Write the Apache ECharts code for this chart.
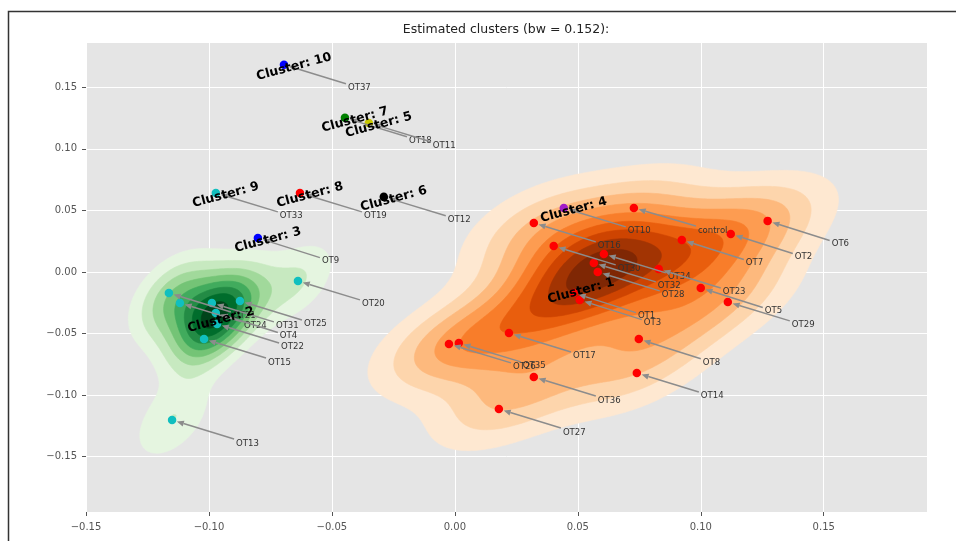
<!DOCTYPE html>
<html>
<head>
<meta charset="utf-8">
<script src="https://cdn.jsdelivr.net/npm/echarts@6/dist/echarts.min.js"></script>
<style>
html, body { margin: 0; padding: 0; background: #fff; }
#clusterChartContainer { width: 956px; height: 541px; }
</style>
</head>
<body>
<div id="clusterChartContainer"></div>
<script>
// sample labels, coordinates and the cluster each one was put in
var pointNames = ['control', 'OT6', 'OT2', 'OT7', 'OT16', 'OT30', 'OT34', 'OT32', 'OT28', 'OT23', 'OT5',
                  'OT29', 'OT1', 'OT3', 'OT17', 'OT8', 'OT26', 'OT35', 'OT36', 'OT14', 'OT27',
                  'OT21', 'OT24', 'OT31', 'OT4', 'OT25', 'OT22', 'OT15', 'OT13', 'OT20',
                  'OT37', 'OT18', 'OT11', 'OT33', 'OT19', 'OT12', 'OT9', 'OT10'];
var pointX = [0.0728, 0.1272, 0.1122, 0.0923, 0.0321, 0.0402, 0.0606, 0.0565, 0.0581, 0.0829, 0.1000,
              0.1110, 0.0484, 0.0508, 0.0220, 0.0748, -0.0024, 0.0016, 0.0321, 0.0740, 0.0179,
              -0.1163, -0.1118, -0.0988, -0.0972, -0.0874, -0.0967, -0.1020, -0.1150, -0.0638,
              -0.0695, -0.0447, -0.0350, -0.0972, -0.0630, -0.0289, -0.0801, 0.0443];
var pointY = [0.0520, 0.0415, 0.0309, 0.0260, 0.0398, 0.0211, 0.0146, 0.0073, 0.0000, 0.0024, -0.0130,
              -0.0244, -0.0171, -0.0228, -0.0496, -0.0545, -0.0585, -0.0577, -0.0854, -0.0821, -0.1114,
              -0.0171, -0.0252, -0.0252, -0.0333, -0.0236, -0.0423, -0.0545, -0.1203, -0.0073,
              0.1683, 0.1252, 0.1211, 0.0642, 0.0642, 0.0610, 0.0276, 0.0520];
var pointCluster = [1, 1, 1, 1, 1, 1, 1, 1, 1, 1, 1,
                    1, 1, 1, 1, 1, 1, 1, 1, 1, 1,
                    2, 2, 2, 2, 2, 2, 2, 2, 2,
                    10, 7, 5, 9, 8, 6, 3, 4];

// cluster centres (where the "Cluster: n" labels sit)
var clusterIds = [1, 2, 3, 4, 5, 6, 7, 8, 9, 10];
var clusterX = [0.0472, -0.0992, -0.0801, 0.0443, -0.0350, -0.0289, -0.0447, -0.0630, -0.0972, -0.0695];
var clusterY = [-0.0138, -0.0374, 0.0276, 0.0520, 0.1211, 0.0610, 0.1252, 0.0642, 0.0642, 0.1683];

var xTicks = [-0.15, -0.10, -0.05, 0.00, 0.05, 0.10, 0.15];
var yTicks = [-0.15, -0.10, -0.05, 0.00, 0.05, 0.10, 0.15];
var xMin = -0.15, xMax = 0.192;
var yMin = -0.195, yMax = 0.186;
var chartTitle = 'Estimated clusters (bw = 0.152):';

// styles
var clusterColors = {1: '#ff0000', 2: '#10bfbf', 3: '#0000ff', 4: '#a21cc8', 5: '#c8c800',
                     6: '#000000', 7: '#008000', 8: '#ff0000', 9: '#10bfbf', 10: '#0000ff'};
var orangesMap = ['#fff5eb', '#fee6ce', '#fdd0a2', '#fdae6b', '#fd8d3c', '#f16913', '#d94801', '#a63603', '#7f2704'];
var greensMap = ['#f7fcf5', '#e5f5e0', '#c7e9c0', '#a1d99b', '#74c476', '#41ab5d', '#238b45', '#006d2c', '#00441b'];
var noteFont = '9.5px "DejaVu Sans Condensed", "DejaVu Sans", sans-serif';
var noteDx = 64, noteDy = 23;
var arrowColor = '#8c8c8c';

var KDE_NX = 300, KDE_NY = 220;

// gaussian kde (scott's rule, full covariance) evaluated on a grid over the axes
function kdeDensity(xs, ys) {
  var n = xs.length, mx = 0, my = 0, i;
  for (i = 0; i < n; i++) { mx += xs[i]; my += ys[i]; }
  mx /= n; my /= n;
  var sxx = 0, syy = 0, sxy = 0;
  for (i = 0; i < n; i++) {
    var ex = xs[i] - mx, ey = ys[i] - my;
    sxx += ex * ex; syy += ey * ey; sxy += ex * ey;
  }
  var f2 = Math.pow(n, -1 / 3);
  var a = sxx / (n - 1) * f2, d = syy / (n - 1) * f2, b = sxy / (n - 1) * f2;
  var det = a * d - b * b;
  var norm = 1 / (2 * Math.PI * Math.sqrt(det) * n);
  var z = new Float64Array(KDE_NX * KDE_NY), peak = 0;
  for (var j = 0; j < KDE_NY; j++) {
    var gy = yMin + j * (yMax - yMin) / (KDE_NY - 1);
    for (var k = 0; k < KDE_NX; k++) {
      var gx = xMin + k * (xMax - xMin) / (KDE_NX - 1);
      var s = 0;
      for (i = 0; i < n; i++) {
        var u = gx - xs[i], v = gy - ys[i];
        s += Math.exp(-0.5 * (d * u * u - 2 * b * u * v + a * v * v) / det);
      }
      s *= norm;
      z[j * KDE_NX + k] = s;
      if (s > peak) peak = s;
    }
  }
  return {z: z, peak: peak};
}

// evenly spaced contour levels from 0 to just above the peak
function contourLevels(peak, layers, slack) {
  var step = peak / (layers - slack);
  var lv = [];
  for (var i = 0; i <= layers; i++) lv.push(i * step);
  return lv;
}

function hexToRgb(h) {
  return [parseInt(h.substr(1, 2), 16), parseInt(h.substr(3, 2), 16), parseInt(h.substr(5, 2), 16)];
}
function cmap(anchors, t) {
  var pos = Math.max(0, Math.min(1, t)) * (anchors.length - 1);
  var i0 = Math.min(Math.floor(pos), anchors.length - 2), f = pos - i0;
  var c0 = hexToRgb(anchors[i0]), c1 = hexToRgb(anchors[i0 + 1]);
  return 'rgb(' + [0, 1, 2].map(function (q) { return Math.round(c0[q] + (c1[q] - c0[q]) * f); }).join(',') + ')';
}

// marching squares -> closed loops in data coordinates
function isoLoops(z, level) {
  var adj = {}, pos = {};
  function gxv(i) { return xMin + i * (xMax - xMin) / (KDE_NX - 1); }
  function gyv(j) { return yMin + j * (yMax - yMin) / (KDE_NY - 1); }
  function val(i, j) { return z[j * KDE_NX + i]; }
  function edgeKey(type, i, j) {
    var key = type + i + '_' + j;
    if (!pos[key]) {
      var va, vb, pa, pb;
      if (type === 'h') { va = val(i, j); vb = val(i + 1, j); pa = [gxv(i), gyv(j)]; pb = [gxv(i + 1), gyv(j)]; }
      else { va = val(i, j); vb = val(i, j + 1); pa = [gxv(i), gyv(j)]; pb = [gxv(i), gyv(j + 1)]; }
      var t = (level - va) / (vb - va);
      pos[key] = [pa[0] + t * (pb[0] - pa[0]), pa[1] + t * (pb[1] - pa[1])];
    }
    return key;
  }
  function link(k1, k2) {
    (adj[k1] = adj[k1] || []).push(k2);
    (adj[k2] = adj[k2] || []).push(k1);
  }
  for (var j = 0; j < KDE_NY - 1; j++) {
    for (var i = 0; i < KDE_NX - 1; i++) {
      var v0 = val(i, j), v1 = val(i + 1, j), v2 = val(i + 1, j + 1), v3 = val(i, j + 1);
      var c = (v0 >= level ? 1 : 0) | (v1 >= level ? 2 : 0) | (v2 >= level ? 4 : 0) | (v3 >= level ? 8 : 0);
      if (c === 0 || c === 15) continue;
      var eB = edgeKey('h', i, j), eR = edgeKey('v', i + 1, j);
      var eT = edgeKey('h', i, j + 1), eL = edgeKey('v', i, j);
      var centre = (v0 + v1 + v2 + v3) / 4 >= level;
      if (c === 5) {
        if (centre) { link(eB, eR); link(eT, eL); } else { link(eB, eL); link(eR, eT); }
        continue;
      }
      if (c === 10) {
        if (centre) { link(eB, eL); link(eR, eT); } else { link(eB, eR); link(eT, eL); }
        continue;
      }
      var crossed = [];
      if (((c & 1) > 0) !== ((c & 2) > 0)) crossed.push(eB);
      if (((c & 2) > 0) !== ((c & 4) > 0)) crossed.push(eR);
      if (((c & 4) > 0) !== ((c & 8) > 0)) crossed.push(eT);
      if (((c & 8) > 0) !== ((c & 1) > 0)) crossed.push(eL);
      link(crossed[0], crossed[1]);
    }
  }
  var seen = {}, loops = [];
  Object.keys(adj).forEach(function (start) {
    if (seen[start]) return;
    var loop = [], prev = null, cur = start;
    while (cur && !seen[cur]) {
      seen[cur] = true;
      loop.push(pos[cur]);
      var nb = adj[cur], next = null;
      for (var q = 0; q < nb.length; q++) {
        if (nb[q] !== prev && !seen[nb[q]]) { next = nb[q]; break; }
      }
      prev = cur; cur = next;
    }
    if (loop.length > 2) loops.push(loop);
  });
  return loops;
}

function buildContours(cluster, anchors, layers, slack) {
  var xs = [], ys = [];
  for (var i = 0; i < pointX.length; i++) {
    if (pointCluster[i] === cluster) { xs.push(pointX[i]); ys.push(pointY[i]); }
  }
  var kde = kdeDensity(xs, ys);
  var lv = contourLevels(kde.peak, layers, slack);
  var items = [];
  // lowest layer is left unshaded
  for (var k = 1; k < layers; k++) {
    var fill = cmap(anchors, k / (layers - 1));
    isoLoops(kde.z, lv[k]).forEach(function (loop) { items.push({pts: loop, fill: fill}); });
  }
  return items;
}

function contourSeries(items, name) {
  return {
    name: name,
    type: 'custom',
    silent: true,
    clip: true,
    z: 1,
    data: items.map(function (it, k) { return [it.pts[0][0], it.pts[0][1], k]; }),
    renderItem: function (params, api) {
      var it = items[params.dataIndex];
      var pts = it.pts.map(function (q) { return api.coord(q); });
      return {type: 'polygon', shape: {points: pts}, style: {fill: it.fill, stroke: it.fill, lineWidth: 0.6}};
    }
  };
}

var measureCtx = document.createElement('canvas').getContext('2d');
measureCtx.font = noteFont;

function renderNote(params, api) {
  var k = api.value(2);
  var p = api.coord([api.value(0), api.value(1)]);
  var name = pointNames[k];
  var w = measureCtx.measureText(name).width;
  var tx = p[0] + noteDx, ty = p[1] + noteDy;
  var cx = tx + w / 2, cy = ty;
  var vx = p[0] - cx, vy = p[1] - cy;
  var s = Math.min((w / 2 + 2) / Math.abs(vx), 7 / Math.abs(vy));
  var sx = cx + vx * s, sy = cy + vy * s;
  var len = Math.sqrt(vx * vx + vy * vy), ux = vx / len, uy = vy / len;
  var ex = p[0] - ux * 5, ey = p[1] - uy * 5;
  var bx = ex - ux * 7, by = ey - uy * 7;
  return {
    type: 'group',
    children: [
      {type: 'line', shape: {x1: sx, y1: sy, x2: bx, y2: by}, style: {stroke: arrowColor, lineWidth: 1.5}},
      {type: 'polygon', shape: {points: [[ex, ey], [bx - uy * 3, by + ux * 3], [bx + uy * 3, by - ux * 3]]},
       style: {fill: arrowColor}},
      {type: 'text', x: tx, y: ty, style: {text: name, font: noteFont, fill: '#333', align: 'left', verticalAlign: 'middle'}}
    ]
  };
}

function renderClusterLabel(params, api) {
  var p = api.coord([api.value(0), api.value(1)]);
  return {
    type: 'text', x: p[0] + 10, y: p[1] + 2, rotation: 15 * Math.PI / 180,
    style: {text: 'Cluster: ' + clusterIds[api.value(2)], font: 'bold 12.5px "DejaVu Sans", sans-serif',
            fill: '#000', align: 'center', verticalAlign: 'middle'}
  };
}

function tickText(v) {
  return (v < 0 ? '\u2212' : '') + Math.abs(v).toFixed(2);
}

var orangeItems = buildContours(1, orangesMap, 10, 0.1);
var greenItems = buildContours(2, greensMap, 9, 0.3);

var clusterChartDom = document.getElementById('clusterChartContainer');
var clusterChart = echarts.init(clusterChartDom);

var clusterOption = {
  animation: false,
  backgroundColor: '#fff',
  graphic: [
    {type: 'rect', z: 100, silent: true, shape: {x: 8.5, y: 11.5, width: 1200, height: 1200},
     style: {fill: 'none', stroke: '#333', lineWidth: 1.5}},
    {type: 'text', x: 506, y: 30, silent: true,
     style: {text: chartTitle, font: '12.5px "DejaVu Sans", sans-serif', fill: '#222', align: 'center', verticalAlign: 'middle'}}
  ],
  grid: {
    left: 86, right: 29, top: 43, bottom: 29,
    show: true, backgroundColor: '#e5e5e5', borderWidth: 0
  },
  xAxis: {
    type: 'value', min: xMin, max: xMax, interval: 0.05,
    axisLine: {show: false, onZero: false},
    axisTick: {show: true, length: 4, lineStyle: {color: '#555'}, customValues: xTicks},
    axisLabel: {color: '#555', fontSize: 10, fontFamily: 'DejaVu Sans', margin: 10,
                customValues: xTicks, formatter: tickText},
    splitLine: {show: true, lineStyle: {color: '#fff', width: 1}}
  },
  yAxis: {
    type: 'value', min: yMin, max: yMax, minInterval: 0.05, maxInterval: 0.05, splitNumber: 8,
    axisLine: {show: false, onZero: false},
    axisTick: {show: true, length: 4, lineStyle: {color: '#555'}, customValues: yTicks},
    axisLabel: {color: '#555', fontSize: 10, fontFamily: 'DejaVu Sans', margin: 9,
                customValues: yTicks, formatter: tickText},
    splitLine: {show: true, lineStyle: {color: '#fff', width: 1}}
  },
  series: [
    contourSeries(orangeItems, 'kde cluster 1'),
    contourSeries(greenItems, 'kde cluster 2'),
    {
      name: 'points',
      type: 'scatter',
      z: 3,
      symbolSize: 8.5,
      data: pointX.map(function (x, i) { return [x, pointY[i], i]; }),
      itemStyle: {
        opacity: 1,
        color: function (params) { return clusterColors[pointCluster[params.dataIndex]]; }
      }
    },
    {
      name: 'notes',
      type: 'custom',
      silent: true,
      z: 4,
      data: pointX.map(function (x, i) { return [x, pointY[i], i]; }),
      renderItem: renderNote
    },
    {
      name: 'cluster labels',
      type: 'custom',
      silent: true,
      z: 5,
      data: clusterX.map(function (x, i) { return [x, clusterY[i], i]; }),
      renderItem: renderClusterLabel
    }
  ]
};
clusterChart.setOption(clusterOption);
</script>
</body>
</html>
